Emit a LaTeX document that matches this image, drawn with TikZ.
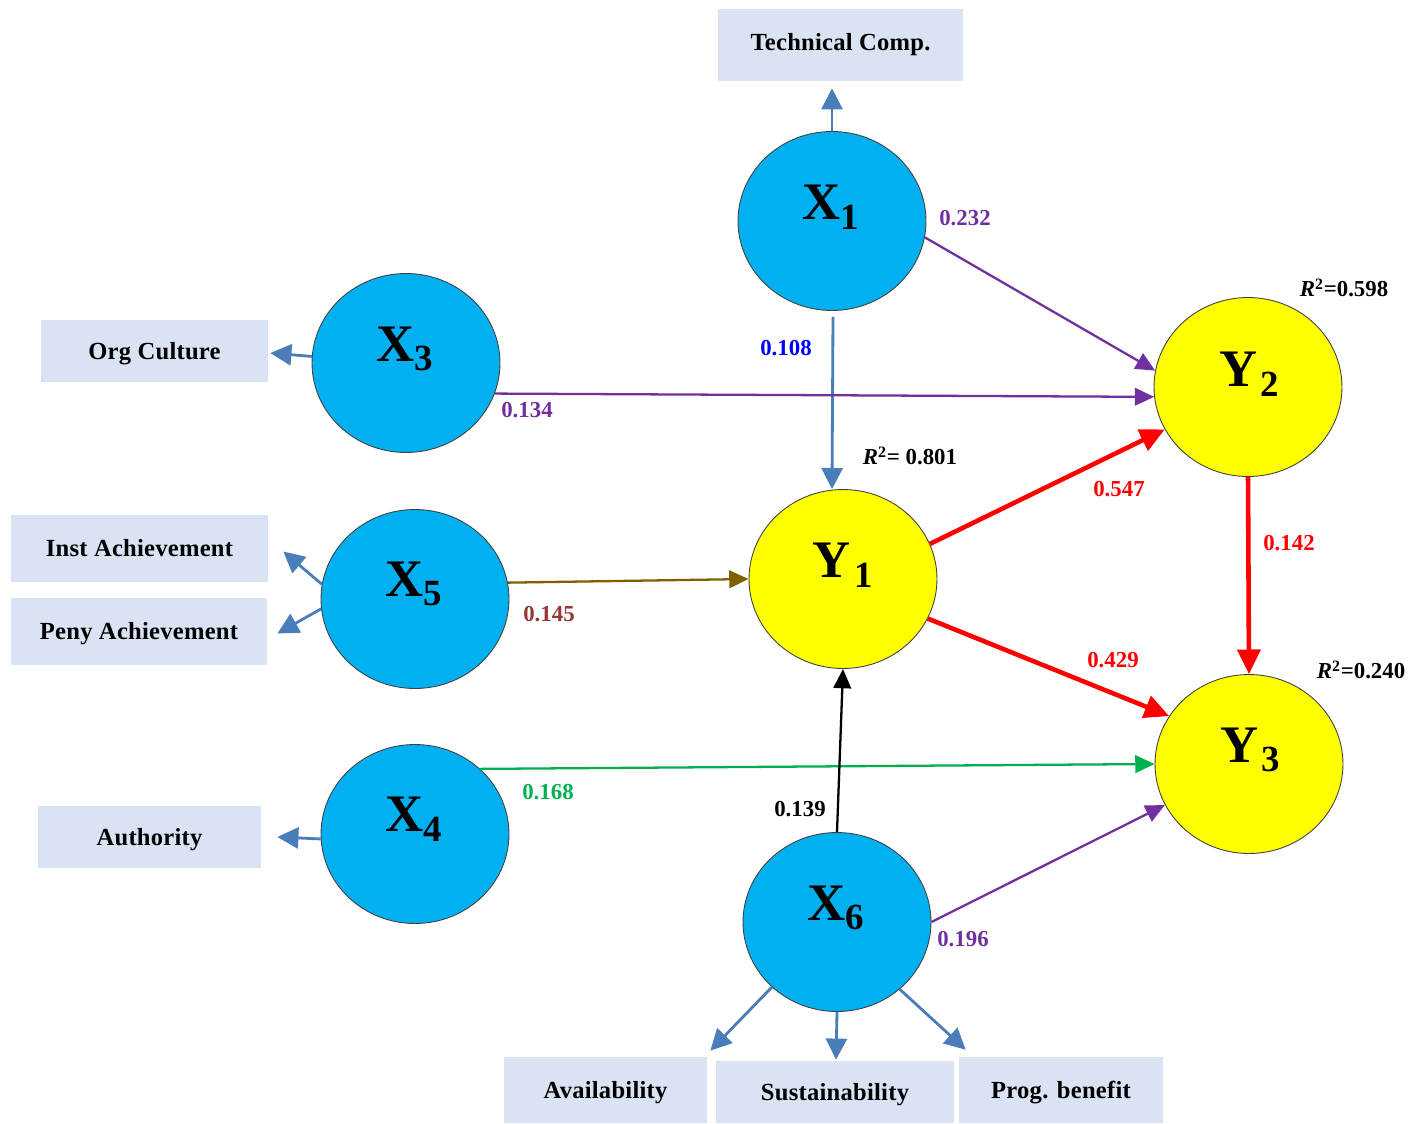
\documentclass[tikz,border=0pt]{standalone}
\usepackage{fontspec}
\setmainfont{Liberation Serif}
\usetikzlibrary{arrows.meta,calc,shapes.geometric}
\definecolor{cyanF}{HTML}{00B0F0}
\definecolor{yelF}{HTML}{FFFF00}
\definecolor{boxF}{HTML}{DAE3F3}
\definecolor{indB}{HTML}{4A7EBB}
\definecolor{purp}{HTML}{7030A0}
\definecolor{brn}{HTML}{7F6000}
\definecolor{brnT}{HTML}{953735}
\definecolor{grn}{HTML}{00B050}
\definecolor{blueT}{HTML}{0000FF}
\definecolor{redA}{HTML}{FF0000}
\newcommand\latlab[2]{#1\raisebox{-5.5pt}{\fontsize{21}{22}\selectfont #2}}
\newcommand\rsq[1]{\textit{R}\textsuperscript{\fontsize{9}{10}\selectfont 2}#1}
\begin{document}
\begin{tikzpicture}[x=0.02cm,y=-0.02cm,
  latent/.style={ellipse, draw=black!75, line width=0.5pt, minimum width=3.76cm, minimum height=3.58cm, inner sep=0pt},
  xcirc/.style={latent, fill=cyanF},
  ycirc/.style={latent, fill=yelF},
  indbox/.style={fill=boxF, inner sep=0pt, text height=9.2pt, text depth=0pt, font=\fontsize{14}{16}\selectfont\bfseries\addfontfeatures{LetterSpace=1}},
  biglab/.style={font=\fontsize{30}{32}\selectfont\bfseries, inner sep=0pt},
  coef/.style={font=\fontsize{13}{15}\selectfont\bfseries, inner sep=1pt},
  rlab/.style={font=\fontsize{13}{15}\selectfont\bfseries, inner sep=1pt},
  indarrow/.style={draw=indB, line width=1.6pt, -{Triangle[length=12pt,width=12pt]}},
  strpath/.style={line width=1.3pt, -{Triangle[length=11pt,width=10pt]}},
  redpath/.style={draw=redA, line width=2.6pt, -{Triangle[length=14pt,width=13pt]}},
]
\useasboundingbox (0,0) rectangle (1413,1123);

% latent variables
\node[xcirc] (X1) at (832,221) {};
\node[xcirc] (X3) at (406,363) {};
\node[xcirc] (X5) at (415,599) {};
\node[xcirc] (X4) at (415,834) {};
\node[xcirc] (X6) at (837,922) {};
\node[ycirc] (Y1) at (843,579) {};
\node[ycirc] (Y2) at (1248,387) {};
\node[ycirc] (Y3) at (1249,764) {};

\node[biglab] (X1t) at (831,207) {\latlab{X}{1}};
\node[biglab] (X3t) at (405,349) {\latlab{X}{3}};
\node[biglab] (X5t) at (414,584) {\latlab{X}{5}};
\node[biglab] (X4t) at (414,819) {\latlab{X}{4}};
\node[biglab] (X6t) at (836,908) {\latlab{X}{6}};
\node[biglab] (Y1t) at (843,565) {\latlab{Y\kern2pt}{1}};
\node[biglab] (Y2t) at (1249,374) {\latlab{Y\kern2pt}{2}};
\node[biglab] (Y3t) at (1250,750) {\latlab{Y\kern2pt}{3}};

% indicator boxes
\node[indbox, minimum width=4.9cm, minimum height=1.44cm] (tech) at (840.5,45) {\raisebox{1.5pt}{Technical Comp.}};
\node[indbox, minimum width=4.54cm, minimum height=1.24cm] (org) at (154.5,351) {Org Culture};
\node[indbox, minimum width=5.14cm, minimum height=1.34cm] (inst) at (139.5,548.5) {Inst Achievement};
\node[indbox, minimum width=5.12cm, minimum height=1.34cm] (peny) at (139,631.5) {Peny Achievement};
\node[indbox, minimum width=4.46cm, minimum height=1.24cm] (auth) at (149.5,837) {Authority};
\node[indbox, minimum width=4.06cm, minimum height=1.32cm] (avail) at (605.5,1090) {Availability};
\node[indbox, minimum width=4.76cm, minimum height=1.24cm] (sust) at (835,1092) {Sustainability};
\node[indbox, minimum width=4.08cm, minimum height=1.32cm] (prog) at (1061,1090) {Prog. benefit};

% indicator arrows
\draw[indarrow] (X1.north) -- ($(X1.north |- tech.south)+(0,7)$);
\draw[indarrow] (X3.176) -- ($(org.east)+(2,2)$);
\draw[indarrow] (X5.171) -- ($(inst.east)+(15,3)$);
\draw[indarrow] (X5.-174) -- ($(peny.east)+(10,2)$);
\draw[indarrow] (X4.-177) -- ($(auth.east)+(16,0)$);
\draw[indarrow] (X6.-135) -- ($(avail.north east)+(3,-6)$);
\draw[indarrow] (X6.south) -- ($(X6.south |- sust.north)+(-1,-1)$);
\draw[indarrow] (X6.-47) -- ($(prog.north west)+(7,-7)$);

% structural paths
\draw[indarrow] ($(X1.south)+(1,6)$) -- (X1.south |- Y1.north);
\draw[strpath, draw=purp] (X1.-10) -- (Y2.170);
\draw[strpath, draw=purp] (X3.-19) -- (Y2.-174);
\draw[strpath, draw=brn] (X5.10) -- (Y1.west);
\draw[redpath] (Y1.22) -- (Y2.-153);
\draw[redpath] (Y1.-25) -- (Y3.149);
\draw[redpath] (Y2.south) -- (Y3.north);
\draw[strpath, draw=grn] (X4.45) -- (Y3.west);
\draw[strpath, draw=black] (X6.north) -- (Y1.south);
\draw[strpath, draw=purp] (X6.east) -- (Y3.-154);

% coefficients
\node[coef, text=purp] (c232) at (965,218) {0.232};
\node[coef, text=blueT] (c108) at (786,348) {0.108};
\node[coef, text=purp] (c134) at (527,410) {0.134};
\node[coef, text=brnT] (c145) at (549,614) {0.145};
\node[coef, text=redA] (c547) at (1119,489) {0.547};
\node[coef, text=redA] (c429) at (1113,660) {0.429};
\node[coef, text=redA] (c142) at (1289,543) {0.142};
\node[coef, text=grn] (c168) at (548,792) {0.168};
\node[coef, text=black] (c139) at (800,809) {0.139};
\node[coef, text=purp] (c196) at (963,939) {0.196};

% R squared
\node[rlab] (r1) at (910,456) {\rsq{= 0.801}};
\node[rlab] (r2) at (1344,288) {\rsq{=0.598}};
\node[rlab] (r3) at (1361,670) {\rsq{=0.240}};
\end{tikzpicture}
\end{document}
